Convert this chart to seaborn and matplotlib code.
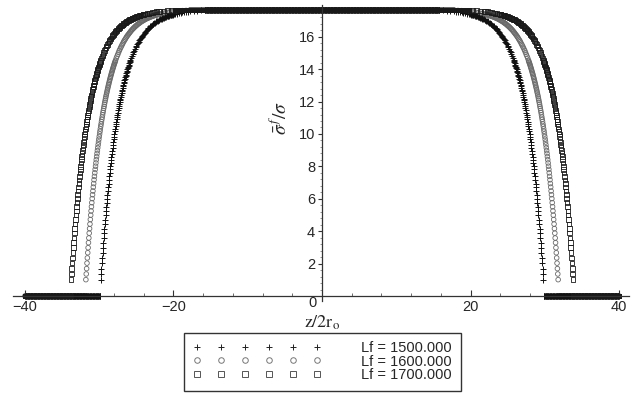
import numpy as np
import pandas as pd
import matplotlib
matplotlib.use("Agg")
import matplotlib.pyplot as plt
from matplotlib.lines import Line2D
from matplotlib.ticker import MultipleLocator
import seaborn as sns

# Curves: normalised fibre stress along the fibre for three fibre lengths
LF_LABELS = ["Lf = 1500.000", "Lf = 1600.000", "Lf = 1700.000"]
END_Z = [29.8, 31.8, 33.8]          # fibre end positions (z/2r0)
PLATEAU = 17.65                      # level in the middle of the fibre
Z_LIMIT = 40.0                       # plotted range is -40 .. 40

# stress profile vs. distance from the fibre end (same shape for every curve)
PROFILE_D = np.r_[np.arange(0.0, 4.001, 0.05),
                  np.arange(4.1, 10.001, 0.1),
                  np.arange(10.25, 12.001, 0.25),
                  [12.5, 13.0, 13.5, 14.0]]
PROFILE_V = [
    # d = 0 .. 1.5
    1.01, 1.36, 1.69, 2.03, 2.35, 2.67, 2.98, 3.29, 3.58, 3.88,
    4.16, 4.44, 4.72, 4.99, 5.25, 5.51, 5.76, 6.01, 6.25, 6.48,
    6.72, 6.94, 7.17, 7.38, 7.60, 7.81, 8.01, 8.21, 8.41, 8.60, 8.79,
    # d = 1.55 .. 4.0
    8.97, 9.15, 9.33, 9.50, 9.67, 9.84, 10.00, 10.16, 10.31, 10.47,
    10.61, 10.76, 10.90, 11.04, 11.18, 11.32, 11.45, 11.58, 11.70, 11.83,
    11.95, 12.07, 12.18, 12.30, 12.41, 12.52, 12.62, 12.73, 12.83, 12.93,
    13.03, 13.12, 13.22, 13.31, 13.40, 13.49, 13.57, 13.66, 13.74, 13.82,
    13.90, 13.98, 14.06, 14.13, 14.20, 14.28, 14.35, 14.41, 14.48, 14.55,
    # d = 4.1 .. 10.0
    14.68, 14.80, 14.91, 15.03, 15.14, 15.24, 15.34, 15.43, 15.52, 15.61,
    15.70, 15.78, 15.85, 15.93, 16.00, 16.07, 16.13, 16.19, 16.25, 16.31,
    16.37, 16.42, 16.47, 16.52, 16.56, 16.61, 16.65, 16.69, 16.73, 16.77,
    16.81, 16.84, 16.87, 16.91, 16.94, 16.97, 16.99, 17.02, 17.05, 17.07,
    17.10, 17.12, 17.14, 17.16, 17.18, 17.20, 17.22, 17.24, 17.25, 17.27,
    17.29, 17.30, 17.32, 17.33, 17.34, 17.35, 17.37, 17.38, 17.39, 17.40,
    # d = 10.25 .. 14
    17.43, 17.45, 17.47, 17.50, 17.52, 17.54, 17.55, 17.57,
    17.59, 17.61, 17.62, 17.63]
assert len(PROFILE_D) == len(PROFILE_V)

MARKERS = ["+", "o", "s"]
COLORS = ["#111111", "#6a6a6a", "#1a1a1a"]
SIZES = [14, 11, 11]
DRAW_ORDER = [1, 0, 2]   # circles below, squares on top


def curve_frame(end):
    """Points of one curve: zeros outside the fibre, end profiles, plateau."""
    d = np.asarray(PROFILE_D)
    v = np.asarray(PROFILE_V)
    d_max = d.max()
    zero_z = np.arange(-Z_LIMIT, -end - 0.04, 0.05)
    mid_z = np.arange(-end + d_max + 0.05, end - d_max - 0.02, 0.05)
    z = np.r_[zero_z, -end + d, mid_z, (end - d)[::-1], -zero_z[::-1]]
    vals = np.r_[np.zeros(len(zero_z)), v, np.full(len(mid_z), PLATEAU),
                 v[::-1], np.zeros(len(zero_z))]
    return pd.DataFrame({"z": z, "stress": vals})


sns.set_theme(style="white")
plt.rcParams["font.family"] = ["Liberation Sans", "DejaVu Sans"]
plt.rcParams["mathtext.fontset"] = "stix"

fig = plt.figure(figsize=(6.33, 3.93), dpi=100)
ax = fig.add_axes([0.0207, 0.2344, 0.9725, 0.7526])

for i in DRAW_ORDER:
    df = curve_frame(END_Z[i])
    m, c, s = MARKERS[i], COLORS[i], SIZES[i]
    if m == "+":
        sns.scatterplot(data=df, x="z", y="stress", marker=m, s=s, color=c,
                        linewidth=0.7, legend=False, ax=ax, clip_on=False)
    else:
        sns.scatterplot(data=df, x="z", y="stress", marker=m, s=s, color=c,
                        facecolor="none", edgecolor=c, linewidth=0.6,
                        legend=False, ax=ax, clip_on=False)

ax.set_xlim(-41.6, 41.3)
ax.set_ylim(-0.3, 17.95)

# Maple-like axes crossing at the origin
for side in ["top", "right"]:
    ax.spines[side].set_visible(False)
ax.spines["bottom"].set_position(("data", 0))
ax.spines["left"].set_position(("data", 0))
for side in ["bottom", "left"]:
    ax.spines[side].set_color("#333333")
    ax.spines[side].set_linewidth(0.9)

ax.set_xticks([-40, -20, 20, 40])
ax.xaxis.set_minor_locator(MultipleLocator(4))
ax.set_yticks(np.arange(2, 17, 2))
ax.yaxis.set_minor_locator(MultipleLocator(0.4))
ax.tick_params(axis="x", which="major", direction="in", length=4, width=0.8,
               color="#333333", labelsize=10.5, pad=3)
ax.tick_params(axis="x", which="minor", direction="in", length=2, width=0.6,
               color="#555555")
ax.tick_params(axis="y", which="major", direction="out", length=3, width=0.8,
               color="#333333", labelsize=10.5, pad=2)
ax.tick_params(axis="y", which="minor", direction="out", length=1.5, width=0.5,
               color="#666666")
ax.tick_params(bottom=True, left=True, which="both")
ax.set_xlabel("")
ax.set_ylabel("")
ax.text(-0.75, -0.42, "0", ha="right", va="center", fontsize=10.5)

fig.text(0.509, 1 - 323 / 393, r"$\mathrm{z/2r_o}$", ha="center", va="center",
         fontsize=13)
fig.text(279 / 633, 1 - 118 / 393, r"$\bar{\sigma}^{\,f}/\sigma$", ha="center",
         va="center", rotation=90, fontsize=14)

handles = [Line2D([], [], marker=m, linestyle="none", markersize=4,
                  markerfacecolor="none", markeredgecolor=c, color=c,
                  markeredgewidth=0.7)
           for m, c in zip(MARKERS, ["#222222", "#777777", "#555555"])]
leg = ax.legend(handles, LF_LABELS, numpoints=6, handlelength=8.8,
                handletextpad=2.75, labelspacing=-0.05, borderpad=0.6,
                fontsize=10.5, loc="center", bbox_to_anchor=(0.5095, 0.080),
                bbox_transform=fig.transFigure, fancybox=False, frameon=True)
leg.get_frame().set_edgecolor("black")
leg.get_frame().set_linewidth(1.0)

fig.savefig("out.png", dpi=100)
